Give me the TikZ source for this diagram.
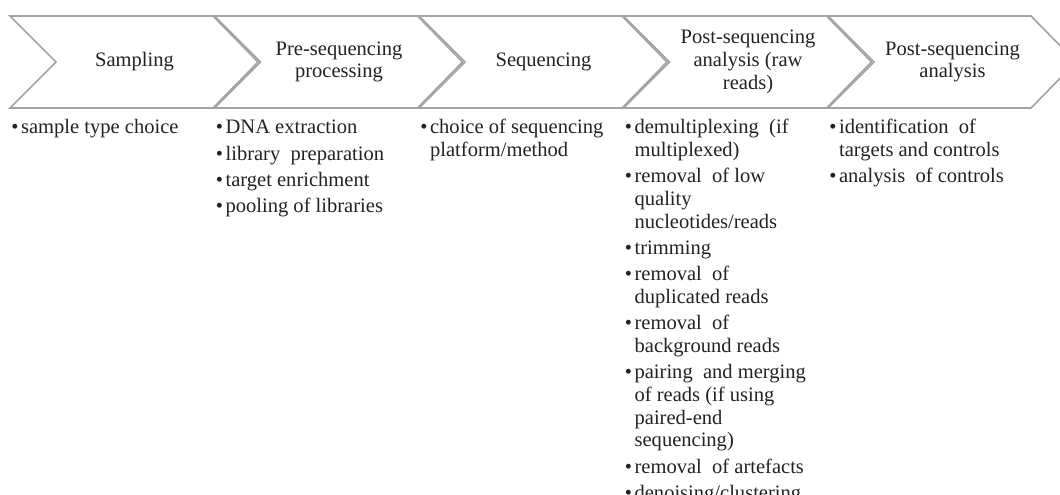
\documentclass[tikz,border=0pt]{standalone}
\usepackage{fontspec}
\setmainfont{Liberation Serif}

\definecolor{chevgray}{HTML}{A3A3A3}
\definecolor{inkgray}{HTML}{222222}

% one bullet item, and a continued line inside it
\newcommand{\bitem}{\textbullet &}
\newcommand{\bnext}{\\ &}

\begin{document}
\begin{tikzpicture}[
    x=0.75pt, y=-0.75pt,
    chev/.style={
        draw=chevgray,
        fill=white,
        line width=1.2pt,
        line join=miter
    },
    head/.style={
        align=center,
        inner sep=0pt,
        text=inkgray
    },
    steplist/.style={
        anchor=base west,
        inner sep=0pt,
        text=inkgray
    },
    every node/.style={font=\fontsize{15.4}{17}\selectfont}
]
    \useasboundingbox (0,0) rectangle (1060,495);

    % chevrons of the workflow
    \foreach \i in {0,...,4}{
        \pgfmathsetmacro{\s}{10+204.5*\i}
        \draw[chev] (\s,16) -- ++(203,0) -- ++(45,46) -- ++(-45,46)
            -- ++(-203,0) -- ++(46,-46) -- cycle;
    }

    \node[head] (sampling) at (134.5,62) {Sampling};
    \node[head] (pre-seq) at (339,62) {Pre-sequencing\\processing};
    \node[head] (seq) at (543.5,62) {Sequencing};
    \node[head] (post-raw) at (748,62) {Post-sequencing\\analysis (raw\\reads)};
    \node[head] (post-seq) at (952.5,62) {Post-sequencing\\analysis};

    % bullet lists below the chevrons
    \node[steplist] (sampling-list) at (11,134) {%
        \begin{tabular}[t]{@{}l@{\hspace{2pt}}l@{}}
        \bitem sample type choice
        \end{tabular}};
    \node[steplist] (pre-seq-list) at (215.5,134) {%
        \begin{tabular}[t]{@{}l@{\hspace{2pt}}l@{}}
        \bitem DNA extraction\\[2.75pt]
        \bitem library\ \ preparation\\[2.75pt]
        \bitem target enrichment\\[2.75pt]
        \bitem pooling of libraries
        \end{tabular}};
    \node[steplist] (seq-list) at (420,134) {%
        \begin{tabular}[t]{@{}l@{\hspace{2pt}}l@{}}
        \bitem choice of sequencing \bnext platform/method
        \end{tabular}};
    \node[steplist] (post-raw-list) at (624.5,134) {%
        \begin{tabular}[t]{@{}l@{\hspace{2pt}}l@{}}
        \bitem demultiplexing\ \ (if \bnext multiplexed)\\[2.75pt]
        \bitem removal\ \ of low \bnext quality \bnext nucleotides/reads\\[2.75pt]
        \bitem trimming\\[2.75pt]
        \bitem removal\ \ of \bnext duplicated reads\\[2.75pt]
        \bitem removal\ \ of \bnext background reads\\[2.75pt]
        \bitem pairing\ \ and merging \bnext of reads (if using \bnext paired-end \bnext sequencing)\\[2.75pt]
        \bitem removal\ \ of artefacts\\[2.75pt]
        \bitem denoising/clustering
        \end{tabular}};
    \node[steplist] (post-seq-list) at (829,134) {%
        \begin{tabular}[t]{@{}l@{\hspace{2pt}}l@{}}
        \bitem identification\ \ of \bnext targets and controls\\[2.75pt]
        \bitem analysis\ \ of controls
        \end{tabular}};
\end{tikzpicture}
\end{document}
